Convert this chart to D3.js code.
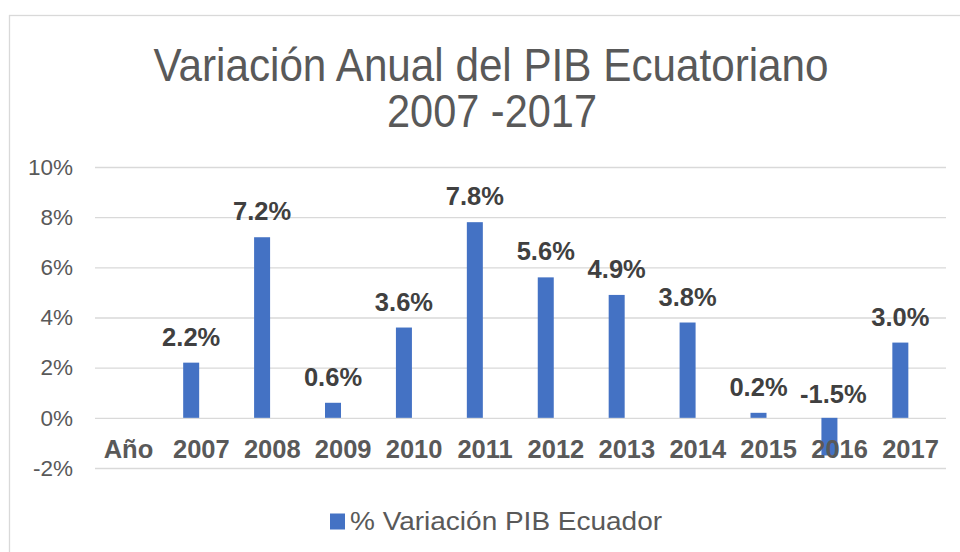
<!DOCTYPE html>
<html>
<head>
<meta charset="utf-8">
<script src="https://cdn.jsdelivr.net/npm/d3@7"></script>
<style>
  html, body { margin: 0; padding: 0; background: #ffffff; }
  svg { display: block; }
  text { font-family: "Liberation Sans", Arial, Helvetica, sans-serif; }
</style>
</head>
<body>
<svg id="chart" width="960" height="552"></svg>
<script>
// ---- data ----
const categories = ["Año", "2007", "2008", "2009", "2010", "2011", "2012", "2013", "2014", "2015", "2016", "2017"];
const values = [null, 2.2, 7.2, 0.6, 3.6, 7.8, 5.6, 4.9, 3.8, 0.2, -1.5, 3.0];
const yTicks = [-2, 0, 2, 4, 6, 8, 10];
const titleLines = ["Variación Anual del PIB Ecuatoriano", "2007 -2017"];
const seriesName = "% Variación PIB Ecuador";

// ---- layout ----
const W = 960, H = 552;
const plotLeft = 95, plotRight = 946;
const barColor = "#4472C4";
const textGray = "#595959";
const labelDark = "#404040";
const gridColor = "#D9D9D9";

const svg = d3.select("#chart");
svg.append("rect").attr("x", 0).attr("y", 0).attr("width", W).attr("height", H).attr("fill", "#fff");

// chart frame
svg.append("rect")
  .attr("x", 9.5).attr("y", 15.5).attr("width", 1000).attr("height", 600)
  .attr("fill", "none").attr("stroke", gridColor).attr("stroke-width", 1.3);

const x = d3.scaleBand().domain(categories).range([plotLeft, plotRight]);
const y = d3.scaleLinear().domain([-2, 10]).range([468, 167]);
const bw = x.bandwidth();
const barW = 16;
const barShift = -10.2; // bars sit left of the category centre

// title
const titleG = svg.append("g");
titleG.append("text")
  .attr("x", 491).attr("y", 81)
  .attr("text-anchor", "middle")
  .attr("font-size", 47).attr("fill", textGray)
  .attr("textLength", 675).attr("lengthAdjust", "spacingAndGlyphs")
  .text(titleLines[0]);
titleG.append("text")
  .attr("x", 492).attr("y", 127)
  .attr("text-anchor", "middle")
  .attr("font-size", 47).attr("fill", textGray)
  .attr("textLength", 210).attr("lengthAdjust", "spacingAndGlyphs")
  .text(titleLines[1]);

// y axis with gridlines
const yAxis = d3.axisLeft(y)
  .tickValues(yTicks)
  .tickSize(-(plotRight - plotLeft))
  .tickPadding(22)
  .tickFormat(d => d + "%");
const yG = svg.append("g").attr("transform", `translate(${plotLeft},0)`).call(yAxis);
yG.select(".domain").remove();
yG.selectAll(".tick line").attr("stroke", gridColor).attr("stroke-width", 1.3);
yG.selectAll(".tick text")
  .attr("font-size", 22.5)
  .attr("fill", textGray)
  .attr("font-family", "'Liberation Sans', Arial, sans-serif");

// bars
const data = categories.map((c, i) => ({ cat: c, v: values[i] })).filter(d => d.v !== null);
const cx = d => x(d.cat) + bw / 2 + barShift;

svg.append("g").selectAll("rect")
  .data(data)
  .join("rect")
  .attr("x", d => cx(d) - barW / 2)
  .attr("width", barW)
  .attr("y", d => y(Math.max(0, d.v)))
  .attr("height", d => Math.abs(y(d.v) - y(0)))
  .attr("fill", barColor);

// x category labels
svg.append("g").selectAll("text")
  .data(categories)
  .join("text")
  .attr("x", d => x(d) + bw / 2 - (d === "Año" ? 2 : 0))
  .attr("y", 457.5)
  .attr("text-anchor", "middle")
  .attr("font-size", 25.5)
  .attr("font-weight", "bold")
  .attr("fill", textGray)
  .text(d => d);

// data labels
svg.append("g").selectAll("text")
  .data(data)
  .join("text")
  .attr("x", d => cx(d) + (d.v < 0 ? 4 : 0))
  .attr("y", d => d.v >= 0 ? y(d.v) - 17 : y(0) - 15)
  .attr("text-anchor", "middle")
  .attr("font-size", 25.5)
  .attr("font-weight", "bold")
  .attr("fill", labelDark)
  .text(d => d.v.toFixed(1) + "%");

// legend
const lg = svg.append("g");
lg.append("rect").attr("x", 330).attr("y", 513.5).attr("width", 15).attr("height", 16).attr("fill", barColor);
lg.append("text")
  .attr("x", 350).attr("y", 529.5)
  .attr("font-size", 26).attr("fill", textGray)
  .attr("textLength", 312).attr("lengthAdjust", "spacingAndGlyphs")
  .text(seriesName);
</script>
</body>
</html>
